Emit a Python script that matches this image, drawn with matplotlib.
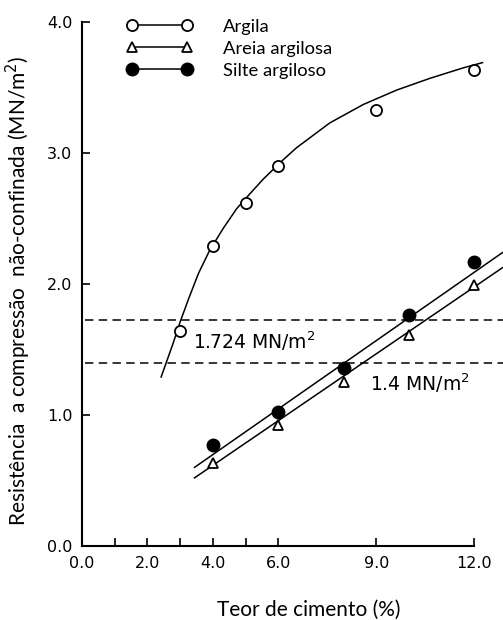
import matplotlib
matplotlib.use("Agg")
import matplotlib.pyplot as plt
from matplotlib.lines import Line2D

# Teor de cimento (%) e resistência (MN/m2) para cada solo
argila_x = [3, 4, 5, 6, 9, 12]
argila_y = [1.64, 2.29, 2.62, 2.90, 3.33, 3.63]
areia_x = [4, 6, 8, 10, 12]
areia_y = [0.63, 0.92, 1.25, 1.61, 1.99]
silte_x = [4, 6, 8, 10, 12]
silte_y = [0.77, 1.02, 1.36, 1.76, 2.17]

# curva ajustada da argila (pontos lidos ao longo da curva)
curva_argila_x = [2.42, 2.79, 3.00, 3.25, 3.56, 3.91, 4.32, 4.73, 5.14,
                  5.54, 6.16, 6.56, 7.58, 8.60, 9.62, 10.64, 11.66, 12.25]
curva_argila_y = [1.29, 1.55, 1.71, 1.88, 2.08, 2.26, 2.425, 2.575, 2.69,
                  2.80, 2.95, 3.04, 3.23, 3.37, 3.48, 3.57, 3.65, 3.69]
# retas ajustadas (extremos)
reta_silte_x = [3.44, 12.86]
reta_silte_y = [0.60, 2.24]
reta_areia_x = [3.44, 12.95]
reta_areia_y = [0.52, 2.14]

# limites de resistência
limites = [1.724, 1.4]
limites_txt = ["1.724 MN/m$^2$", "1.4 MN/m$^2$"]
limites_pos = [(3.39, 1.56), (8.81, 1.245)]

xticks = [0, 2, 4, 6, 9, 12]
xticklabels = ["0.0", "2.0", "4.0", "6.0", "9.0", "12.0"]
yticks = [0, 1, 2, 3, 4]
yticklabels = ["0.0", "1.0", "2.0", "3.0", "4.0"]

label_font = "Lato"

fig = plt.figure(figsize=(5.03, 6.2), dpi=100)
ax = fig.add_axes([82 / 503, 74 / 620, 421 / 503, 524 / 620])
ax.set_xlim(0, 421 / 32.7)
ax.set_ylim(0, 4)

lw = 1.1
ax.plot(curva_argila_x, curva_argila_y, color="black", lw=lw, zorder=2)
ax.plot(reta_silte_x, reta_silte_y, color="black", lw=lw, zorder=2)
ax.plot(reta_areia_x, reta_areia_y, color="black", lw=lw, zorder=2)

for y in limites:
    ax.plot([0.1, 13], [y, y], color="black", lw=1.1,
            linestyle=(0, (5.5, 3.5)), zorder=1)
for txt, (tx, ty) in zip(limites_txt, limites_pos):
    ax.text(tx, ty, txt, fontsize=13.5, family="DejaVu Sans",
            ha="left", va="center")

ax.plot(argila_x, argila_y, "o", ms=8, mfc="white", mec="black", mew=1.3, zorder=3)
ax.plot(areia_x, areia_y, "^", ms=6.5, mfc="white", mec="black", mew=1.3, zorder=3)
ax.plot(silte_x, silte_y, "o", ms=9, mfc="black", mec="black", zorder=3)

for s in ["top", "right"]:
    ax.spines[s].set_visible(False)
ax.spines["left"].set_bounds(0, 4)
ax.spines["bottom"].set_bounds(0, 12)
for s in ["left", "bottom"]:
    ax.spines[s].set_linewidth(1.5)

ax.set_xticks(xticks)
ax.set_xticklabels(xticklabels)
ax.set_xticks([1, 3, 5], minor=True)
ax.set_yticks(yticks)
ax.set_yticklabels(yticklabels)
ax.tick_params(which="both", direction="in", length=5.5, width=1.2,
               labelsize=11.5, pad=7)

ax.set_ylabel("Resistência  a compressão  não-confinada (MN/m$^2$)",
              fontsize=15, family=label_font)
ax.yaxis.set_label_coords(-0.116, 0.487)
fig.text(309 / 503, 1 - 610 / 620, "Teor de cimento (%)", fontsize=15,
         family=label_font, ha="center", va="center")

handles = [
    Line2D([], [], color="black", lw=lw, marker="o", ms=8, mfc="white", mew=1.3),
    Line2D([], [], color="black", lw=lw, marker="^", ms=6.5, mfc="white", mew=1.3),
    Line2D([], [], color="black", lw=lw, marker="o", ms=9, mfc="black"),
]
leg = ax.legend(handles, ["Argila", "Areia argilosa", "Silte argiloso"],
                loc="upper left", bbox_to_anchor=(0.0674, 1.038), frameon=False,
                numpoints=2, handlelength=3.6, handletextpad=1.65,
                labelspacing=0.33, prop={"family": label_font, "size": 13.2})

fig.savefig("out.png", dpi=100)
